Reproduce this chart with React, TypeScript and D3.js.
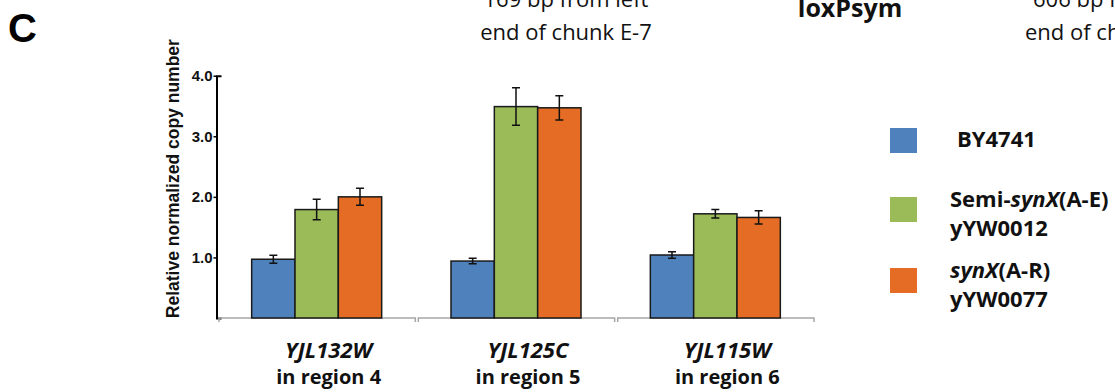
import React, { useEffect, useRef } from 'react';
import * as d3 from 'd3';

// values
const genes = ['YJL132W', 'YJL125C', 'YJL115W'];
const regions = ['in region 4', 'in region 5', 'in region 6'];
const strains = ['BY4741', 'Semi-synX(A-E)', 'synX(A-R)'];
const strainIds = ['', 'yYW0012', 'yYW0077'];
const colors = ['#4F81BD', '#9BBB59', '#E46C24'];
const by4741 = [0.97, 0.94, 1.04];
const by4741Err = [0.065, 0.045, 0.055];
const semiSynX = [1.79, 3.49, 1.72];
const semiSynXErr = [0.17, 0.31, 0.07];
const synX = [2.0, 3.47, 1.66];
const synXErr = [0.14, 0.2, 0.11];
const yTicks = [1, 2, 3, 4];

const values = [by4741, semiSynX, synX];
const errors = [by4741Err, semiSynXErr, synXErr];

const App: React.FC = () => {
    const svgRef = useRef<SVGSVGElement>(null);

    useEffect(() => {
        document.body.style.margin = '0';
        const width = 1115;
        const height = 392;

        d3.select(svgRef.current).selectAll('*').remove();
        const svg = d3.select(svgRef.current)
            .attr('width', width)
            .attr('height', height)
            .style('display', 'block')
            .style('background', '#fff');

        const x0 = d3.scaleBand().domain(genes).range([217, 815]);
        const x1 = d3.scaleBand().domain(strains).range([-65, 65]);
        const y = d3.scaleLinear().domain([0, 4]).range([318, 75.7]);

        // panel letter + header text
        svg.append('text').attr('x', 8).attr('y', 42)
            .style('font', 'bold 40px "Liberation Sans", Arial, sans-serif')
            .text('C');

        const header = svg.append('g')
            .style('font-family', '"Open Sans", sans-serif')
            .style('font-size', '22px')
            .attr('fill', '#111');
        header.append('text').attr('x', 566).attr('y', 7).attr('text-anchor', 'middle').text('169 bp from left');
        header.append('text').attr('x', 566).attr('y', 40).attr('text-anchor', 'middle').text('end of chunk E-7');
        header.append('text').attr('x', 850).attr('y', 17).attr('text-anchor', 'middle')
            .style('font-weight', 'bold').style('font-size', '25px').text('loxPsym');
        header.append('text').attr('x', 1033).attr('y', 7).text('606 bp from left');
        header.append('text').attr('x', 1025).attr('y', 40).text('end of chunk');

        // y axis
        const yAxis = svg.append('g')
            .attr('transform', 'translate(216.5,0)')
            .call(d3.axisLeft(y).tickValues(yTicks).tickFormat(d3.format('.1f')).tickSizeInner(3).tickSizeOuter(-5));
        yAxis.select('.domain').attr('stroke', '#000').attr('stroke-width', 2);
        yAxis.selectAll('.tick line').attr('stroke', '#000').attr('stroke-width', 1.5);
        yAxis.selectAll('.tick text')
            .attr('x', -4)
            .style('font', 'bold 15px "Liberation Sans", Arial, sans-serif')
            .attr('fill', '#111');

        svg.append('text')
            .attr('transform', `translate(173,${y(2.3)}) rotate(-90)`)
            .attr('text-anchor', 'middle')
            .attr('dominant-baseline', 'central')
            .style('font', 'bold 17.5px "Liberation Sans", Arial, sans-serif')
            .attr('fill', '#111')
            .text('Relative normalized copy number');

        // x axis brackets
        svg.append('g').selectAll('path')
            .data(genes)
            .join('path')
            .attr('d', g => {
                const a = (x0(g) as number) + 2;
                const b = (x0(g) as number) + x0.bandwidth() - 1;
                return `M${a},322V318H${b}V322`;
            })
            .attr('fill', 'none')
            .attr('stroke', '#a6a6a6')
            .attr('stroke-width', 1.5);

        // bars
        const groups = svg.append('g').selectAll('g')
            .data(genes)
            .join('g')
            .attr('transform', g => `translate(${(x0(g) as number) + x0.bandwidth() / 2},0)`);

        groups.each(function (_, gi) {
            const grp = d3.select(this);
            strains.forEach((s, si) => {
                const v = values[si][gi];
                const e = errors[si][gi];
                const bx = x1(s) as number;
                grp.append('rect')
                    .attr('x', bx)
                    .attr('y', y(v))
                    .attr('width', x1.bandwidth())
                    .attr('height', y(0) - y(v))
                    .attr('fill', colors[si])
                    .attr('stroke', '#1a1a1a')
                    .attr('stroke-width', 1.5);
                const cx = bx + x1.bandwidth() / 2;
                grp.append('path')
                    .attr('d', `M${cx},${y(v + e)}V${y(v - e)}M${cx - 4},${y(v + e)}H${cx + 4}M${cx - 4},${y(v - e)}H${cx + 4}`)
                    .attr('stroke', '#111')
                    .attr('stroke-width', 1.5)
                    .attr('fill', 'none');
            });
        });

        // category labels
        const labels = svg.append('g')
            .style('font-family', '"Open Sans", sans-serif')
            .style('font-weight', 'bold')
            .attr('fill', '#111')
            .attr('text-anchor', 'middle');
        genes.forEach((g, i) => {
            const cx = (x0(g) as number) + x0.bandwidth() / 2 + 12;
            labels.append('text').attr('x', cx).attr('y', 358)
                .style('font-style', 'italic').style('font-size', '22px').text(g);
            labels.append('text').attr('x', cx).attr('y', 384)
                .style('font-size', '20px').text(regions[i]);
        });

        // legend
        const legend = svg.append('g')
            .style('font-family', '"Open Sans", sans-serif')
            .style('font-weight', 'bold')
            .style('font-size', '22px')
            .attr('fill', '#111');
        const rowTop = [128, 197, 268];
        strains.forEach((s, i) => {
            legend.append('rect')
                .attr('x', 890).attr('y', rowTop[i])
                .attr('width', 27).attr('height', 25)
                .attr('fill', colors[i]);
            const twoLines = strainIds[i] !== '';
            const t = legend.append('text')
                .attr('x', twoLines ? 950 : 957)
                .attr('y', twoLines ? rowTop[i] + 10 : rowTop[i] + 19);
            s.split(/(synX)/).filter(p => p).forEach(p => {
                t.append('tspan').style('font-style', p === 'synX' ? 'italic' : 'normal').text(p);
            });
            if (twoLines) {
                legend.append('text').attr('x', 950).attr('y', rowTop[i] + 39).text(strainIds[i]);
            }
        });
    }, []);

    return <svg ref={svgRef}></svg>;
};

export default App;
